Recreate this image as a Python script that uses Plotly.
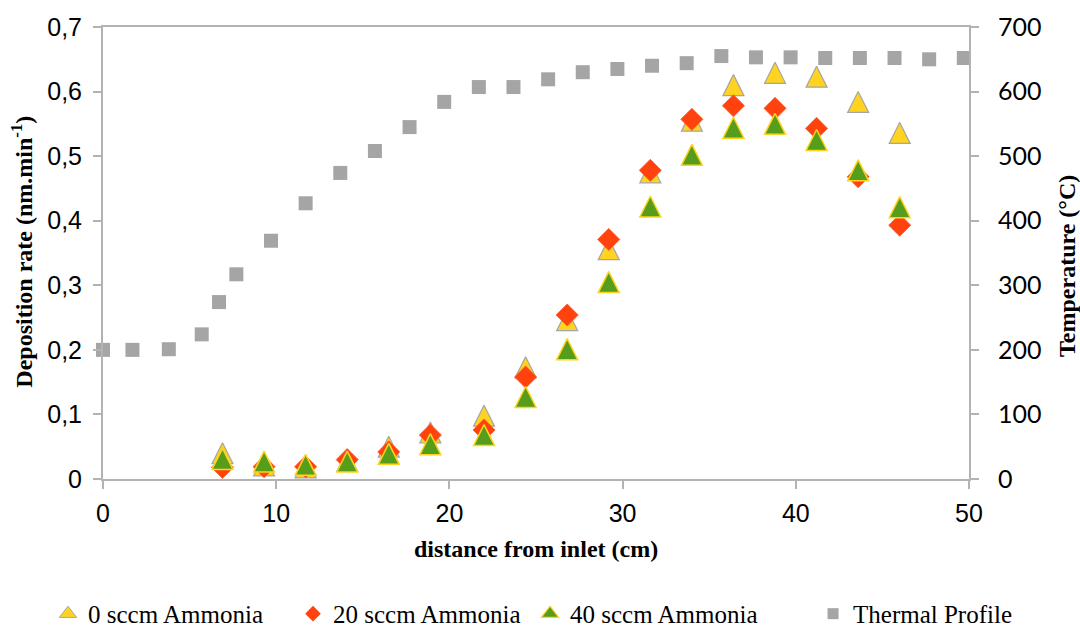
import plotly.graph_objects as go

# ---- data ----
dist_dep = [6.9, 9.3, 11.7, 14.1, 16.5, 18.9, 22.0, 24.4, 26.8, 29.2, 31.6, 34.0, 36.4, 38.8, 41.2, 43.6, 46.0]
rate_0sccm = [0.040, 0.021, 0.018, 0.028, 0.050, 0.072, 0.098, 0.173, 0.246, 0.356, 0.475, 0.555, 0.610, 0.629, 0.623, 0.584, 0.536]
rate_20sccm = [0.018, 0.019, 0.019, 0.030, 0.042, 0.068, 0.076, 0.158, 0.254, 0.371, 0.478, 0.557, 0.578, 0.574, 0.543, 0.468, 0.393]
rate_40sccm = [0.031, 0.027, 0.022, 0.027, 0.039, 0.054, 0.068, 0.127, 0.201, 0.305, 0.422, 0.502, 0.544, 0.550, 0.525, 0.478, 0.421]

dist_temp = [0, 1.7, 3.8, 5.7, 6.7, 7.7, 9.7, 11.7, 13.7, 15.7, 17.7, 19.7, 21.7, 23.7, 25.7, 27.7,
             29.7, 31.7, 33.7, 35.7, 37.7, 39.7, 41.7, 43.7, 45.7, 47.7, 49.7]
temperature = [200, 200, 201, 224, 274, 317, 369, 427, 474, 508, 545, 584, 607, 607, 619, 630,
               635, 640, 644, 655, 653, 653, 652, 652, 652, 650, 652]

names = ["0 sccm Ammonia", "20 sccm Ammonia", "40 sccm Ammonia", "Thermal Profile"]

YELLOW = "#FFD320"
ORANGE = "#FF420E"
GREEN = "#579D1C"
GREY = "#A5A5A5"
AXIS = "#B3B3B3"

TRI = 21  # triangle size (px)

fig = go.Figure()

def tri_marker(fill, edge, size, lw):
    return dict(symbol="arrow-down", angle=180, standoff=size / 2, size=size,
                color=fill, line=dict(color=edge, width=lw))

fig.add_trace(go.Scatter(x=dist_dep, y=rate_0sccm, mode="markers", name=names[0], showlegend=False,
                         marker=tri_marker(YELLOW, GREY, TRI, 1.2), cliponaxis=False))
fig.add_trace(go.Scatter(x=dist_dep, y=rate_20sccm, mode="markers", name=names[1], showlegend=False,
                         marker=dict(symbol="diamond", size=17, color=ORANGE, line=dict(color="#FF5A2A", width=0.8)),
                         cliponaxis=False))
fig.add_trace(go.Scatter(x=dist_dep, y=rate_40sccm, mode="markers", name=names[2], showlegend=False,
                         marker=tri_marker(GREEN, YELLOW, TRI, 1.5), cliponaxis=False))
fig.add_trace(go.Scatter(x=dist_temp, y=temperature, mode="markers", name=names[3], showlegend=False,
                         yaxis="y2", marker=dict(symbol="square", size=14, color=GREY, line=dict(width=0)),
                         cliponaxis=False))

# legend-only entries (smaller markers, as in the reference legend), one legend box each
legend_markers = [
    dict(symbol="triangle-up", size=15, color=YELLOW, line=dict(color=GREY, width=1)),
    dict(symbol="diamond", size=12, color=ORANGE, line=dict(width=0)),
    dict(symbol="triangle-up", size=15, color=GREEN, line=dict(color=YELLOW, width=1.2)),
    dict(symbol="square", size=11, color=GREY, line=dict(width=0)),
]
legend_ids = ["legend", "legend2", "legend3", "legend4"]
for nm, mk, lg in zip(names, legend_markers, legend_ids):
    fig.add_trace(go.Scatter(x=[None], y=[None], mode="markers", name=nm, marker=mk, legend=lg))

tickfont_l = dict(family="Liberation Sans, Arial", size=25, color="#000000")
tickfont_r = dict(family="Lato, Carlito, Calibri", size=25, color="#000000")
titlefont = dict(family="Liberation Serif, Times New Roman", size=24, color="#000000")
legfont = dict(family="Liberation Serif, Times New Roman", size=25, color="#000000")

legend_x = [-0.0635, 0.2194, 0.4931, 0.8199]
legend_cfg = {}
for lg, lx in zip(legend_ids, legend_x):
    legend_cfg[lg] = dict(orientation="h", x=lx, xanchor="left", y=-0.2985, yanchor="middle",
                          font=legfont, itemwidth=30, bgcolor="rgba(0,0,0,0)", borderwidth=0)

fig.update_layout(
    width=1080, height=629,
    margin=dict(l=103, r=111, t=27, b=150, autoexpand=False),
    paper_bgcolor="white", plot_bgcolor="white",
    separators=", ",
    showlegend=True,
    xaxis=dict(range=[0, 50], dtick=10, tick0=0, showgrid=False, zeroline=False,
               showline=True, linecolor=AXIS, linewidth=2, mirror=True,
               ticks="outside", ticklen=8, tickwidth=2, tickcolor=AXIS,
               tickfont=tickfont_l, ticklabelstandoff=3),
    yaxis=dict(range=[0, 0.7], dtick=0.1, tick0=0, showgrid=False, zeroline=False,
               showline=True, linecolor=AXIS, linewidth=2,
               ticks="outside", ticklen=8, tickwidth=2, tickcolor=AXIS,
               tickfont=tickfont_l, ticklabelstandoff=6),
    yaxis2=dict(range=[0, 700], dtick=100, tick0=0, overlaying="y", side="right",
                showgrid=False, zeroline=False, showline=True, linecolor=AXIS, linewidth=2,
                ticks="outside", ticklen=8, tickwidth=2, tickcolor=AXIS,
                tickfont=tickfont_r, ticklabelstandoff=14),
    annotations=[
        dict(text="<b>distance from inlet (cm)</b>", xref="paper", yref="paper", x=0.5, y=-0.155,
             xanchor="center", yanchor="middle", showarrow=False, font=titlefont),
        dict(text="<b>Deposition rate (nm.min<sup>-1</sup>)</b>", xref="paper", yref="paper",
             x=-0.0935, y=0.503, xanchor="center", yanchor="middle", textangle=-90,
             showarrow=False, font=titlefont),
        dict(text="<b>Temperature (°C)</b>", xref="paper", yref="paper",
             x=1.113, y=0.471, xanchor="center", yanchor="middle", textangle=-90,
             showarrow=False, font=titlefont),
    ],
    **legend_cfg,
)

fig.write_html("out.html")
